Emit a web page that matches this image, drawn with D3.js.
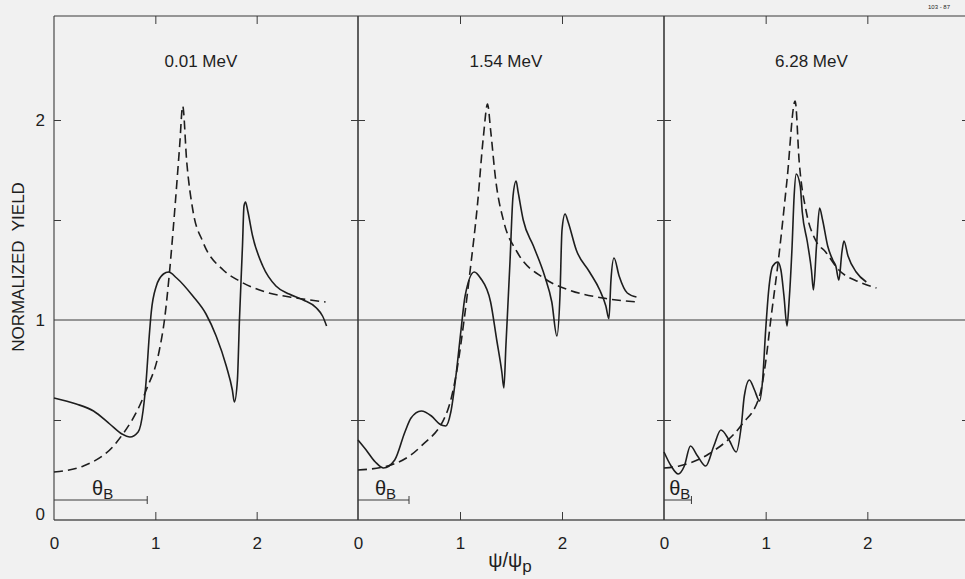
<!DOCTYPE html>
<html>
<head>
<meta charset="utf-8">
<script src="https://cdn.jsdelivr.net/npm/d3@7"></script>
<style>
  html, body { margin: 0; padding: 0; background: #f1f1f1; }
  svg { display: block; }
  text { font-family: "Liberation Sans", Arial, sans-serif; fill: #1e1e1e; }
</style>
</head>
<body>
<svg id="chart" width="965" height="579"></svg>
<script>
// ---------------- data ----------------
const panelLabels = ["0.01 MeV", "1.54 MeV", "6.28 MeV"];
const xTickLabels = [0, 1, 2];
const yTickLabels = [0, 1, 2];
const yInnerTicks = [0.5, 1.5, 2];
const thetaBWidth = [0.92, 0.50, 0.27];

// 0.01 MeV
const dashed1 = [[0.0,0.24],[0.29,0.27],[0.62,0.39],[0.91,0.65],[1.04,0.85],[1.09,1.0],[1.14,1.24],[1.19,1.54],[1.24,1.87],[1.27,2.07],[1.31,1.79],[1.37,1.55],[1.47,1.39],[1.67,1.25],[1.83,1.195],[2.09,1.14],[2.39,1.11],[2.68,1.09]];
const solid1 = [[0.0,0.61],[0.22,0.58],[0.39,0.545],[0.55,0.48],[0.67,0.43],[0.75,0.415],[0.83,0.44],[0.88,0.55],[0.91,0.70],[0.94,0.92],[0.96,1.04],[1.01,1.17],[1.08,1.23],[1.13,1.24],[1.21,1.21],[1.37,1.12],[1.50,1.03],[1.60,0.92],[1.70,0.77],[1.76,0.65],[1.78,0.59],[1.81,0.70],[1.83,1.0],[1.86,1.37],[1.875,1.57],[1.89,1.59],[1.91,1.55],[1.96,1.42],[2.06,1.27],[2.19,1.17],[2.32,1.13],[2.46,1.10],[2.59,1.06],[2.65,1.02],[2.69,0.97]];

// 1.54 MeV
const dashed2 = [[0.0,0.25],[0.29,0.27],[0.62,0.37],[0.88,0.55],[0.97,0.75],[1.04,1.0],[1.10,1.25],[1.17,1.57],[1.23,1.92],[1.27,2.08],[1.30,1.95],[1.35,1.70],[1.43,1.49],[1.56,1.34],[1.82,1.21],[2.07,1.15],[2.40,1.11],[2.74,1.09]];
const solid2 = [[0.0,0.40],[0.08,0.35],[0.17,0.29],[0.25,0.26],[0.36,0.30],[0.46,0.44],[0.52,0.51],[0.62,0.545],[0.72,0.52],[0.80,0.48],[0.86,0.47],[0.91,0.54],[0.96,0.72],[1.01,0.95],[1.05,1.12],[1.14,1.24],[1.20,1.21],[1.30,1.09],[1.36,0.90],[1.41,0.74],[1.43,0.66],[1.45,0.87],[1.49,1.29],[1.52,1.62],[1.55,1.695],[1.57,1.64],[1.62,1.50],[1.72,1.37],[1.83,1.22],[1.90,1.09],[1.95,0.92],[1.98,1.12],[2.00,1.45],[2.03,1.53],[2.06,1.49],[2.14,1.35],[2.27,1.24],[2.37,1.15],[2.43,1.07],[2.46,1.006],[2.48,1.20],[2.51,1.31],[2.56,1.22],[2.64,1.135],[2.73,1.115]];

// 6.28 MeV
const dashed3 = [[0.0,0.26],[0.15,0.27],[0.44,0.33],[0.77,0.48],[0.94,0.62],[1.00,0.79],[1.05,1.0],[1.13,1.32],[1.21,1.70],[1.29,2.095],[1.33,1.79],[1.40,1.54],[1.49,1.40],[1.59,1.34],[1.72,1.25],[1.92,1.19],[2.09,1.16]];
const solid3 = [[0.0,0.34],[0.07,0.27],[0.14,0.23],[0.20,0.27],[0.26,0.37],[0.33,0.32],[0.41,0.27],[0.49,0.37],[0.56,0.45],[0.64,0.40],[0.71,0.34],[0.76,0.47],[0.79,0.62],[0.84,0.70],[0.89,0.65],[0.94,0.595],[0.97,0.70],[1.00,0.95],[1.03,1.15],[1.07,1.27],[1.12,1.29],[1.15,1.25],[1.18,1.12],[1.21,0.97],[1.23,1.09],[1.26,1.37],[1.28,1.62],[1.30,1.73],[1.34,1.67],[1.36,1.54],[1.41,1.39],[1.45,1.25],[1.47,1.15],[1.50,1.37],[1.53,1.56],[1.56,1.50],[1.61,1.37],[1.66,1.30],[1.69,1.27],[1.72,1.20],[1.75,1.34],[1.77,1.395],[1.81,1.32],[1.89,1.24],[1.99,1.19]];

const dashedSeries = [dashed1, dashed2, dashed3];
const solidSeries = [solid1, solid2, solid3];

// ---------------- layout ----------------
const svg = d3.select("#chart");
const borders = [54, 358, 664, 969];
const topY = 16, bottomY = 520;
const y = d3.scaleLinear().domain([0, 2.52]).range([bottomY, topY]);
const ink = "#1e1e1e";
const axisInk = "#3a3a3a";

// frame: top line, bottom line, y=1 line
svg.append("line").attr("x1", borders[0]).attr("x2", 965).attr("y1", topY).attr("y2", topY)
  .attr("stroke", axisInk).attr("stroke-width", 1.2);
svg.append("line").attr("x1", borders[0]).attr("x2", 965).attr("y1", bottomY).attr("y2", bottomY)
  .attr("stroke", "#555").attr("stroke-width", 1.6);
svg.append("line").attr("x1", borders[0]).attr("x2", 965).attr("y1", y(1)).attr("y2", y(1))
  .attr("stroke", axisInk).attr("stroke-width", 1);

// left axis labels
const yAxisLeft = d3.axisLeft(y).tickValues(yTickLabels).tickSize(0).tickPadding(9).tickFormat(d3.format("d"));
const gYL = svg.append("g").attr("transform", `translate(${borders[0]},0)`).call(yAxisLeft);
gYL.select(".domain").remove();
gYL.selectAll("text").style("font-size", "17px").attr("fill", ink).attr("font-family", "Liberation Sans, Arial, sans-serif");
gYL.selectAll(".tick").filter(d => d === 0).select("text").attr("dy", "-0.05em");

const line = d3.line().curve(d3.curveMonotoneX);

panelLabels.forEach((lab, i) => {
  const x = d3.scaleLinear().domain([0, 3]).range([borders[i], borders[i + 1]]);
  const g = svg.append("g");

  // vertical borders
  [borders[i], borders[i + 1]].forEach(bx => {
    g.append("line").attr("x1", bx).attr("x2", bx).attr("y1", topY).attr("y2", bottomY)
      .attr("stroke", axisInk).attr("stroke-width", 1.1);
  });
  // inner y ticks (left pointing right, right pointing left)
  const yl = d3.axisRight(y).tickValues(yInnerTicks).tickSize(7).tickFormat("");
  const gl = g.append("g").attr("transform", `translate(${borders[i]},0)`).call(yl);
  gl.select(".domain").remove();
  gl.selectAll("line").attr("stroke", axisInk);
  const yr = d3.axisLeft(y).tickValues(yInnerTicks).tickSize(7).tickFormat("");
  const gr = g.append("g").attr("transform", `translate(${borders[i + 1]},0)`).call(yr);
  gr.select(".domain").remove();
  gr.selectAll("line").attr("stroke", axisInk);

  // bottom ticks and labels
  const xb = d3.axisBottom(x).tickValues(xTickLabels).tickSizeInner(-8).tickSizeOuter(0).tickPadding(17).tickFormat(d3.format("d"));
  const gb = g.append("g").attr("transform", `translate(0,${bottomY})`).call(xb);
  gb.select(".domain").remove();
  gb.selectAll("line").attr("stroke", axisInk).filter(d => d === 0).remove();
  gb.selectAll("text").style("font-size", "17px").attr("fill", ink).attr("font-family", "Liberation Sans, Arial, sans-serif");

  // top ticks
  const xt = d3.axisTop(x).tickValues([1, 2]).tickSizeInner(-8).tickSizeOuter(0).tickFormat("");
  const gt = g.append("g").attr("transform", `translate(0,${topY})`).call(xt);
  gt.select(".domain").remove();
  gt.selectAll("line").attr("stroke", axisInk);

  // title
  g.append("text").attr("x", x(1.45)).attr("y", 67).attr("text-anchor", "middle")
    .style("font-size", "17px").text(lab);

  // theta_B bracket
  const by = 500;
  g.append("line").attr("x1", x(0)).attr("x2", x(thetaBWidth[i])).attr("y1", by).attr("y2", by)
    .attr("stroke", axisInk).attr("stroke-width", 1);
  g.append("line").attr("x1", x(thetaBWidth[i])).attr("x2", x(thetaBWidth[i])).attr("y1", by - 4).attr("y2", by + 4)
    .attr("stroke", axisInk).attr("stroke-width", 1);
  const tb = g.append("text").attr("x", x(thetaBWidth[i] / 2) + 2).attr("y", 495).attr("text-anchor", "middle")
    .style("font-size", "20px");
  tb.append("tspan").text("θ");
  tb.append("tspan").attr("dy", 4).style("font-size", "15px").text("B");

  // curves
  g.append("path").datum(dashedSeries[i])
    .attr("d", line.x(d => x(d[0])).y(d => y(d[1])))
    .attr("fill", "none").attr("stroke", ink).attr("stroke-width", 1.6)
    .attr("stroke-dasharray", "9,5");
  g.append("path").datum(solidSeries[i])
    .attr("d", line.x(d => x(d[0])).y(d => y(d[1])))
    .attr("fill", "none").attr("stroke", ink).attr("stroke-width", 1.6);
});

// axis titles
svg.append("text").attr("transform", "translate(24,267) rotate(-90)").attr("text-anchor", "middle")
  .attr("xml:space", "preserve").style("font-size", "17px").text("NORMALIZED  YIELD");

const xl = svg.append("text").attr("x", 510).attr("y", 567).attr("text-anchor", "middle").style("font-size", "20px");
xl.append("tspan").text("ψ/ψ");
xl.append("tspan").attr("dy", 5).style("font-size", "17px").text("p");

svg.append("text").attr("x", 939).attr("y", 9).attr("text-anchor", "middle").style("font-size", "6px").text("103 - 87");
</script>
</body>
</html>
